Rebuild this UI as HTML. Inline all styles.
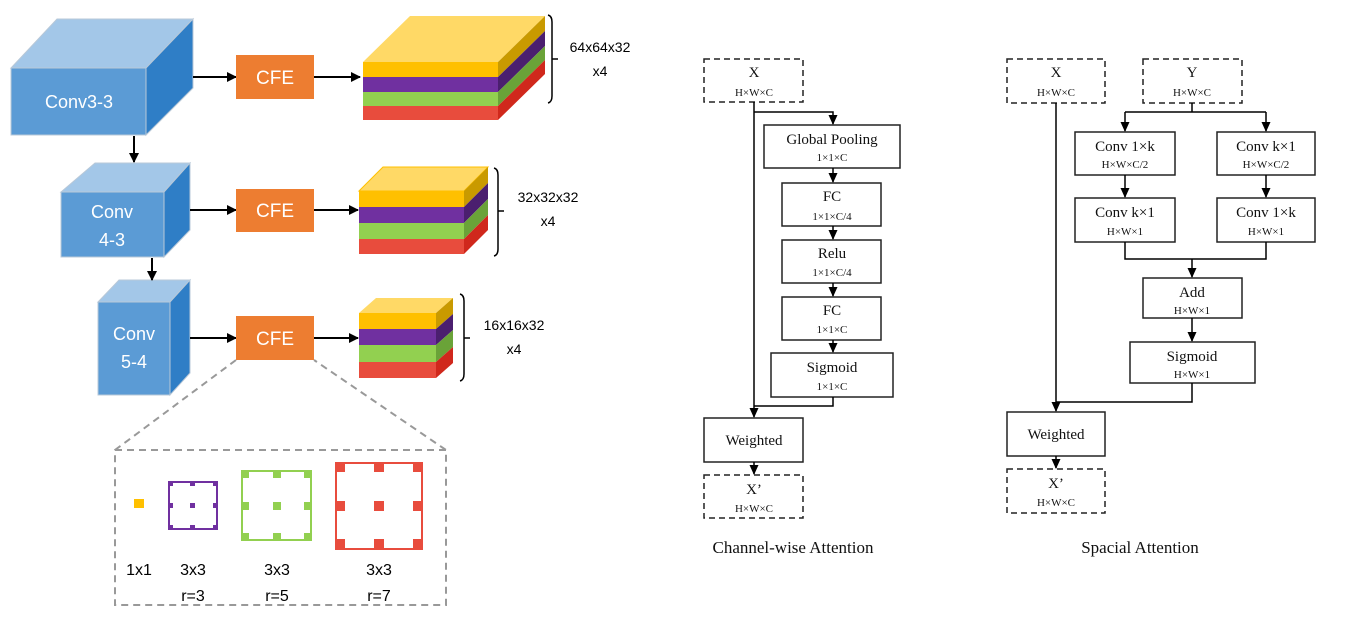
<!DOCTYPE html>
<html><head><meta charset="utf-8"><style>
html,body{margin:0;padding:0;background:#fff;}
svg{display:block;}
.l{font-family:"Liberation Sans","Noto Sans CJK SC",sans-serif;}
.t{font-family:"Liberation Serif",serif;fill:#111;}
</style></head><body>
<svg width="1346" height="624" viewBox="0 0 1346 624" xmlns="http://www.w3.org/2000/svg">
<defs>
<marker id="a" markerWidth="10" markerHeight="10" refX="9" refY="5" orient="auto" markerUnits="userSpaceOnUse"><path d="M0,0 L10,5 L0,10 z" fill="#000"/></marker>
<marker id="b" markerWidth="10" markerHeight="10" refX="9" refY="5" orient="auto" markerUnits="userSpaceOnUse"><path d="M0,0.5 L10,5 L0,9.5 z" fill="#000"/></marker>
</defs>
<!-- cubes -->
<g stroke="#b8c8d8" stroke-width="1">
<polygon points="11,68 57,19 193,19 146,68" fill="#a3c7e8"/>
<polygon points="146,68 193,19 193,88 146,135" fill="#2f7ec6"/>
<rect x="11" y="68" width="135" height="67" fill="#5b9bd5"/>
<polygon points="61,192 95,163 190,163 164,192" fill="#a3c7e8"/>
<polygon points="164,192 190,163 190,230 164,257" fill="#2f7ec6"/>
<rect x="61" y="192" width="103" height="65" fill="#5b9bd5"/>
<polygon points="98,302 119,280 190,280 170,302" fill="#a3c7e8"/>
<polygon points="170,302 190,280 190,373 170,395" fill="#2f7ec6"/>
<rect x="98" y="302" width="72" height="93" fill="#5b9bd5"/>
</g>
<g class="l" fill="#fff" font-size="18" text-anchor="middle">
<text x="79" y="108">Conv3-3</text>
<text x="112" y="218">Conv</text><text x="112" y="246">4-3</text>
<text x="134" y="340">Conv</text><text x="134" y="368">5-4</text>
</g>
<!-- vertical arrows -->
<g stroke="#000" stroke-width="2">
<line x1="134" y1="136" x2="134" y2="162" marker-end="url(#a)"/>
<line x1="152" y1="258" x2="152" y2="280" marker-end="url(#a)"/>
<line x1="193" y1="77" x2="236" y2="77" marker-end="url(#a)"/>
<line x1="314" y1="77" x2="360" y2="77" marker-end="url(#a)"/>
<line x1="190" y1="210" x2="236" y2="210" marker-end="url(#a)"/>
<line x1="314" y1="210" x2="358" y2="210" marker-end="url(#a)"/>
<line x1="190" y1="338" x2="236" y2="338" marker-end="url(#a)"/>
<line x1="314" y1="338" x2="358" y2="338" marker-end="url(#a)"/>
</g>
<!-- CFE -->
<g fill="#ed7d31">
<rect x="236" y="55" width="78" height="44"/>
<rect x="236" y="189" width="78" height="43"/>
<rect x="236" y="316" width="78" height="44"/>
</g>
<g class="l" fill="#fff" font-size="19" text-anchor="middle">
<text x="275" y="84">CFE</text><text x="275" y="217">CFE</text><text x="275" y="345">CFE</text>
</g>
<!-- stack 1 -->
<polygon points="363,62 410,16 545,16 498,62" fill="#ffd966"/>
<rect x="363" y="62" width="135" height="15" fill="#ffc000"/>
<rect x="363" y="77" width="135" height="15" fill="#7030a0"/>
<rect x="363" y="92" width="135" height="14" fill="#92d050"/>
<rect x="363" y="106" width="135" height="14" fill="#e84c3d"/>
<polygon points="498,62 545,16 545,31 498,77" fill="#c99a00"/>
<polygon points="498,77 545,31 545,46 498,92" fill="#4b1f6f"/>
<polygon points="498,92 545,46 545,60 498,106" fill="#6aa338"/>
<polygon points="498,106 545,60 545,74 498,120" fill="#d0281c"/>
<!-- stack 2 -->
<polygon points="359,191 383,167 488,167 464,191" fill="#ffd966" stroke="#ffc000"/>
<rect x="359" y="191" width="105" height="16" fill="#ffc000"/>
<rect x="359" y="207" width="105" height="16" fill="#7030a0"/>
<rect x="359" y="223" width="105" height="16" fill="#92d050"/>
<rect x="359" y="239" width="105" height="15" fill="#e84c3d"/>
<polygon points="464,191 488,167 488,183 464,207" fill="#c99a00"/>
<polygon points="464,207 488,183 488,199 464,223" fill="#4b1f6f"/>
<polygon points="464,223 488,199 488,215 464,239" fill="#6aa338"/>
<polygon points="464,239 488,215 488,230 464,254" fill="#d0281c"/>
<!-- stack 3 -->
<polygon points="359,313 376,298 453,298 436,313" fill="#ffd966"/>
<rect x="359" y="313" width="77" height="16" fill="#ffc000"/>
<rect x="359" y="329" width="77" height="16" fill="#7030a0"/>
<rect x="359" y="345" width="77" height="17" fill="#92d050"/>
<rect x="359" y="362" width="77" height="16" fill="#e84c3d"/>
<polygon points="436,313 453,298 453,314 436,329" fill="#c99a00"/>
<polygon points="436,329 453,314 453,330 436,345" fill="#4b1f6f"/>
<polygon points="436,345 453,330 453,347 436,362" fill="#6aa338"/>
<polygon points="436,362 453,347 453,363 436,378" fill="#d0281c"/>
<!-- brackets -->
<g fill="none" stroke="#000" stroke-width="1.5">
<path d="M548,15 Q552,16 552,22 L552,96 Q552,102 548,103 M552,59 L558,59"/>
<path d="M494,168 Q498,169 498,175 L498,249 Q498,255 494,256 M498,211 L504,211"/>
<path d="M460,294 Q464,295 464,301 L464,374 Q464,380 460,381 M464,338 L470,338"/>
</g>
<g class="l" font-size="14" fill="#000" text-anchor="middle">
<text x="600" y="52">64x64x32</text><text x="600" y="76">x4</text>
<text x="548" y="202">32x32x32</text><text x="548" y="226">x4</text>
<text x="514" y="330">16x16x32</text><text x="514" y="354">x4</text>
</g>
<!-- CFE detail -->
<g fill="none" stroke="#999" stroke-width="2" stroke-dasharray="7,5">
<path d="M236,360 L115,450 L115,605 L446,605 L446,450 L314,360"/>
<line x1="115" y1="450" x2="446" y2="450"/>
</g>
<rect x="134" y="499" width="10" height="9" fill="#ffc000"/>
<g fill="#7030a0"><rect x="169" y="482" width="48" height="47" fill="none" stroke="#7030a0" stroke-width="2"/>
<rect x="168" y="481" width="5" height="5"/><rect x="190" y="481" width="5" height="5"/><rect x="213" y="481" width="5" height="5"/>
<rect x="168" y="503" width="5" height="5"/><rect x="190" y="503" width="5" height="5"/><rect x="213" y="503" width="5" height="5"/>
<rect x="168" y="525" width="5" height="5"/><rect x="190" y="525" width="5" height="5"/><rect x="213" y="525" width="5" height="5"/></g>
<g fill="#92d050"><rect x="242" y="471" width="69" height="69" fill="none" stroke="#92d050" stroke-width="2"/>
<rect x="241" y="470" width="8" height="8"/><rect x="273" y="470" width="8" height="8"/><rect x="304" y="470" width="8" height="8"/>
<rect x="241" y="502" width="8" height="8"/><rect x="273" y="502" width="8" height="8"/><rect x="304" y="502" width="8" height="8"/>
<rect x="241" y="533" width="8" height="8"/><rect x="273" y="533" width="8" height="8"/><rect x="304" y="533" width="8" height="8"/></g>
<g fill="#e84c3d"><rect x="336" y="463" width="86" height="86" fill="none" stroke="#e84c3d" stroke-width="2"/>
<rect x="335" y="462" width="10" height="10"/><rect x="374" y="462" width="10" height="10"/><rect x="413" y="462" width="10" height="10"/>
<rect x="335" y="501" width="10" height="10"/><rect x="374" y="501" width="10" height="10"/><rect x="413" y="501" width="10" height="10"/>
<rect x="335" y="539" width="10" height="10"/><rect x="374" y="539" width="10" height="10"/><rect x="413" y="539" width="10" height="10"/></g>
<g class="l" font-size="16" fill="#000" text-anchor="middle">
<text x="139" y="575">1x1</text>
<text x="193" y="575">3x3</text><text x="193" y="601">r=3</text>
<text x="277" y="575">3x3</text><text x="277" y="601">r=5</text>
<text x="379" y="575">3x3</text><text x="379" y="601">r=7</text>
</g>
<!-- Channel-wise -->
<g fill="none" stroke="#222" stroke-width="1.5">
<rect x="704" y="59" width="99" height="43" stroke-dasharray="6,4"/>
<rect x="704" y="475" width="99" height="43" stroke-dasharray="6,4"/>
<rect x="764" y="125" width="136" height="43"/>
<rect x="782" y="183" width="99" height="43"/>
<rect x="782" y="240" width="99" height="43"/>
<rect x="782" y="297" width="99" height="43"/>
<rect x="771" y="353" width="122" height="44"/>
<rect x="704" y="418" width="99" height="44"/>
</g>
<g fill="none" stroke="#000" stroke-width="1.5">
<path d="M754,102 L754,417" marker-end="url(#b)"/>
<path d="M754,112 L833,112 L833,124" marker-end="url(#b)"/>
<path d="M833,168 L833,182" marker-end="url(#b)"/>
<path d="M833,226 L833,239" marker-end="url(#b)"/>
<path d="M833,283 L833,296" marker-end="url(#b)"/>
<path d="M833,340 L833,352" marker-end="url(#b)"/>
<path d="M833,397 L833,406 L754,406"/>
<path d="M754,462 L754,474" marker-end="url(#b)"/>
</g>
<g class="t" text-anchor="middle">
<text x="754" y="77" font-size="15">X</text><text x="754" y="96" font-size="11">H×W×C</text>
<text x="832" y="144" font-size="15">Global Pooling</text><text x="832" y="161" font-size="11">1×1×C</text>
<text x="832" y="201" font-size="15">FC</text><text x="832" y="220" font-size="11">1×1×C/4</text>
<text x="832" y="258" font-size="15">Relu</text><text x="832" y="276" font-size="11">1×1×C/4</text>
<text x="832" y="315" font-size="15">FC</text><text x="832" y="333" font-size="11">1×1×C</text>
<text x="832" y="372" font-size="15">Sigmoid</text><text x="832" y="390" font-size="11">1×1×C</text>
<text x="754" y="445" font-size="15">Weighted</text>
<text x="754" y="494" font-size="15">X’</text><text x="754" y="512" font-size="11">H×W×C</text>
<text x="793" y="553" font-size="17">Channel-wise Attention</text>
</g>
<!-- Spacial -->
<g fill="none" stroke="#222" stroke-width="1.5">
<rect x="1007" y="59" width="98" height="44" stroke-dasharray="6,4"/>
<rect x="1143" y="59" width="99" height="44" stroke-dasharray="6,4"/>
<rect x="1007" y="469" width="98" height="44" stroke-dasharray="6,4"/>
<rect x="1075" y="132" width="100" height="43"/>
<rect x="1217" y="132" width="98" height="43"/>
<rect x="1075" y="198" width="100" height="44"/>
<rect x="1217" y="198" width="98" height="44"/>
<rect x="1143" y="278" width="99" height="40"/>
<rect x="1130" y="342" width="125" height="41"/>
<rect x="1007" y="412" width="98" height="44"/>
</g>
<g fill="none" stroke="#000" stroke-width="1.5">
<path d="M1192,103 L1192,112"/>
<path d="M1125,112 L1266,112"/>
<path d="M1125,112 L1125,131" marker-end="url(#b)"/>
<path d="M1266,112 L1266,131" marker-end="url(#b)"/>
<path d="M1125,175 L1125,197" marker-end="url(#b)"/>
<path d="M1266,175 L1266,197" marker-end="url(#b)"/>
<path d="M1125,242 L1125,259 L1266,259 L1266,242"/>
<path d="M1192,259 L1192,277" marker-end="url(#b)"/>
<path d="M1192,318 L1192,341" marker-end="url(#b)"/>
<path d="M1192,383 L1192,402 L1056,402"/>
<path d="M1056,103 L1056,411" marker-end="url(#b)"/>
<path d="M1056,456 L1056,468" marker-end="url(#b)"/>
</g>
<g class="t" text-anchor="middle">
<text x="1056" y="77" font-size="15">X</text><text x="1056" y="96" font-size="11">H×W×C</text>
<text x="1192" y="77" font-size="15">Y</text><text x="1192" y="96" font-size="11">H×W×C</text>
<text x="1125" y="151" font-size="15">Conv 1×k</text><text x="1125" y="168" font-size="11">H×W×C/2</text>
<text x="1266" y="151" font-size="15">Conv k×1</text><text x="1266" y="168" font-size="11">H×W×C/2</text>
<text x="1125" y="217" font-size="15">Conv k×1</text><text x="1125" y="235" font-size="11">H×W×1</text>
<text x="1266" y="217" font-size="15">Conv 1×k</text><text x="1266" y="235" font-size="11">H×W×1</text>
<text x="1192" y="297" font-size="15">Add</text><text x="1192" y="314" font-size="11">H×W×1</text>
<text x="1192" y="361" font-size="15">Sigmoid</text><text x="1192" y="378" font-size="11">H×W×1</text>
<text x="1056" y="439" font-size="15">Weighted</text>
<text x="1056" y="488" font-size="15">X’</text><text x="1056" y="506" font-size="11">H×W×C</text>
<text x="1140" y="553" font-size="17">Spacial Attention</text>
</g>
</svg>
</body></html>
